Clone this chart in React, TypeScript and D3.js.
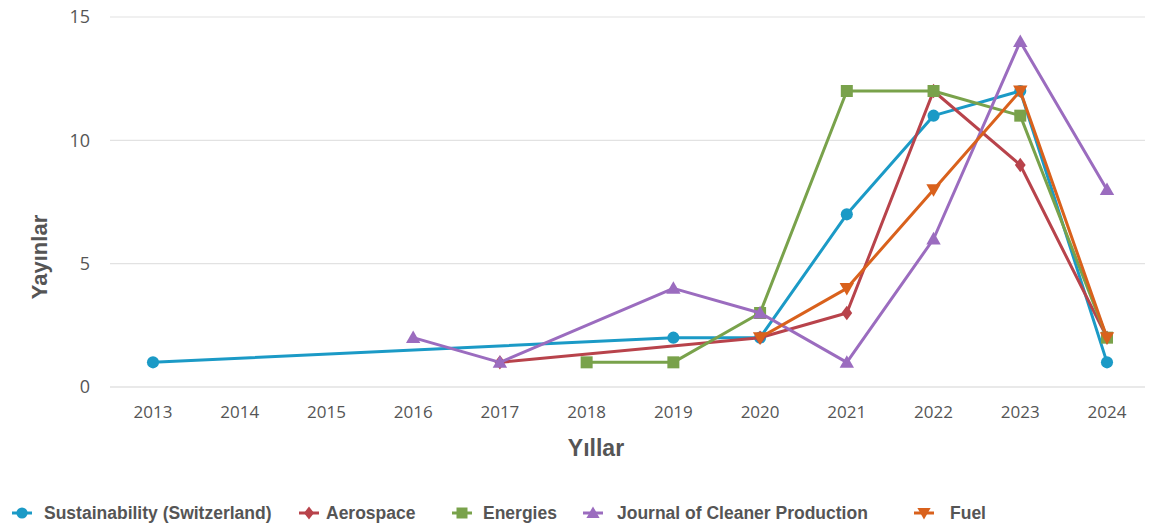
import React from "react";
import * as d3 from "d3";

const years = [2013, 2014, 2015, 2016, 2017, 2018, 2019, 2020, 2021, 2022, 2023, 2024];
const yTicks = [0, 5, 10, 15];

type Pt = [number, number];
const sustainability: Pt[] = [[2013, 1], [2019, 2], [2020, 2], [2021, 7], [2022, 11], [2023, 12], [2024, 1]];
const aerospace: Pt[] = [[2017, 1], [2020, 2], [2021, 3], [2022, 12], [2023, 9], [2024, 2]];
const energies: Pt[] = [[2018, 1], [2019, 1], [2020, 3], [2021, 12], [2022, 12], [2023, 11], [2024, 2]];
const cleaner: Pt[] = [[2016, 2], [2017, 1], [2019, 4], [2020, 3], [2021, 1], [2022, 6], [2023, 14], [2024, 8]];
const fuel: Pt[] = [[2020, 2], [2021, 4], [2022, 8], [2023, 12], [2024, 2]];

const seriesNames = ["Sustainability (Switzerland)", "Aerospace", "Energies", "Journal of Cleaner Production", "Fuel"];
const seriesColors = ["#1b9ac6", "#b8434b", "#79a24b", "#9b6cbf", "#d9611c"];
const seriesData = [sustainability, aerospace, energies, cleaner, fuel];
const seriesShapes = ["circle", "diamond", "square", "triangleUp", "triangleDown"];
const legendX = [22, 309, 462, 593, 924];
const legendTextX = [44, 326, 483, 617, 950];

const W = 1151;
const H = 527;

function markerPath(shape: string, s: number): string {
  switch (shape) {
    case "circle":
      return d3.symbol(d3.symbolCircle, s * s * 0.8)()!;
    case "diamond":
      return `M0,${-s * 0.6}L${s * 0.45},0L0,${s * 0.6}L${-s * 0.45},0Z`;
    case "square":
      return `M${-s / 2},${-s / 2}h${s}v${s}h${-s}Z`;
    case "triangleUp":
      return `M0,${-s * 0.6}L${s * 0.6},${s * 0.45}L${-s * 0.6},${s * 0.45}Z`;
    default:
      return `M0,${s * 0.6}L${s * 0.6},${-s * 0.45}L${-s * 0.6},${-s * 0.45}Z`;
  }
}

export default function App() {
  const x = d3.scaleLinear().domain([2013, 2024]).range([153, 1107]);
  const y = d3.scaleLinear().domain([0, 15]).range([387, 17]);
  const line = d3.line<Pt>().x((d) => x(d[0])).y((d) => y(d[1]));

  const tickFont = "'Open Sans', 'DejaVu Sans', sans-serif";
  const boldFont = "'Liberation Sans', Arial, sans-serif";

  return (
    <svg width={W} height={H} style={{ position: "absolute", left: 0, top: 0, background: "#fff" }}>
      {yTicks.map((t) => (
        <g key={t}>
          <line x1={110} x2={1145} y1={y(t)} y2={y(t)} stroke={t === 0 ? "#d4d4d4" : "#e2e2e2"} strokeWidth={1.2} />
          <text x={90} y={y(t)} dy="0.35em" textAnchor="end" fontFamily={tickFont} fontSize={18} fill="#555">
            {t}
          </text>
        </g>
      ))}
      {years.map((yr) => (
        <text key={yr} x={x(yr)} y={418} textAnchor="middle" fontFamily={tickFont} fontSize={17} fill="#555">
          {yr}
        </text>
      ))}
      <text x={596} y={456} textAnchor="middle" fontFamily={boldFont} fontWeight="bold" fontSize={23} fill="#555">
        Yıllar
      </text>
      <text
        transform={`translate(47,${257}) rotate(-90)`}
        textAnchor="middle"
        fontFamily={boldFont}
        fontWeight="bold"
        fontSize={22}
        fill="#555"
      >
        Yayınlar
      </text>

      {seriesData.map((data, i) => (
        <g key={seriesNames[i]}>
          <path d={line(data)!} fill="none" stroke={seriesColors[i]} strokeWidth={3} strokeLinejoin="round" />
          {data.map((d) => (
            <path
              key={d[0]}
              d={markerPath(seriesShapes[i], 12)}
              transform={`translate(${x(d[0])},${y(d[1])})`}
              fill={seriesColors[i]}
            />
          ))}
        </g>
      ))}

      {seriesNames.map((name, i) => (
        <g key={name}>
          <g transform={`translate(${legendX[i]},513)`}>
            <line x1={-10} x2={10} y1={0} y2={0} stroke={seriesColors[i]} strokeWidth={3} />
            <path d={markerPath(seriesShapes[i], 11)} fill={seriesColors[i]} />
          </g>
          <text x={legendTextX[i]} y={513} dy="0.35em" fontFamily={boldFont} fontWeight="bold" fontSize={17.5} fill="#555">
            {name}
          </text>
        </g>
      ))}
    </svg>
  );
}
